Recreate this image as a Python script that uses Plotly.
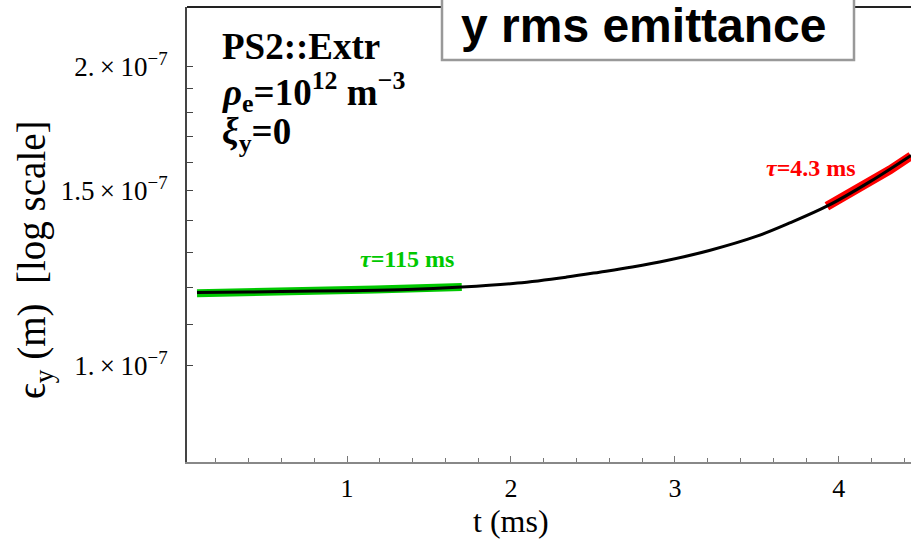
import plotly.graph_objects as go
import math

# ---- data ----
t_black = [0.085, 0.4, 0.7, 1.0, 1.37, 1.7, 2.04, 2.34, 2.54, 2.74, 2.95, 3.21, 3.5, 3.7, 3.93, 4.19, 4.44]
eps_black = [1.185e-7, 1.186e-7, 1.188e-7, 1.190e-7, 1.193e-7, 1.200e-7, 1.211e-7, 1.228e-7,
             1.242e-7, 1.257e-7, 1.276e-7, 1.306e-7, 1.350e-7, 1.392e-7, 1.448e-7, 1.532e-7, 1.628e-7]

t_green = [0.085, 0.69, 1.17, 1.70]
eps_green = [1.183e-7, 1.187e-7, 1.193e-7, 1.200e-7]

t_red = [3.927, 4.110, 4.311, 4.44]
eps_red = [1.447e-7, 1.503e-7, 1.574e-7, 1.626e-7]

ytick_vals = [1.0e-7, 1.5e-7, 2.0e-7]
ytick_text = ["1.\u2009×\u200910<sup>−7</sup>", "1.5\u2009×\u200910<sup>−7</sup>", "2.\u2009×\u200910<sup>−7</sup>"]
yminor_vals = [1.1e-7, 1.2e-7, 1.3e-7, 1.4e-7, 1.6e-7, 1.7e-7, 1.8e-7, 1.9e-7]
xtick_vals = [1, 2, 3, 4]

W, H = 911, 540
L, R, T, B = 187, 0, 7, 78
pw, ph = W - L - R, H - T - B

def px(x):
    return (x - L) / pw

def py(y):
    return (H - B - y) / ph

fig = go.Figure()
fig.add_trace(go.Scatter(x=t_green, y=eps_green, mode="lines",
                         line=dict(color="rgb(0,200,0)", width=8), hoverinfo="skip"))
fig.add_trace(go.Scatter(x=t_red, y=eps_red, mode="lines",
                         line=dict(color="rgb(255,0,0)", width=9), hoverinfo="skip"))
fig.add_trace(go.Scatter(x=t_black, y=eps_black, mode="lines", line_shape="spline",
                         line=dict(color="black", width=3), hoverinfo="skip"))

serif = "Liberation Serif, Times New Roman, serif"

fig.update_layout(
    width=W, height=H,
    margin=dict(l=L, r=R, t=T, b=B),
    paper_bgcolor="white", plot_bgcolor="white",
    showlegend=False,
    xaxis=dict(range=[0.024, 4.44], tickmode="array", tickvals=xtick_vals,
               ticks="inside", ticklen=6, tickcolor="#777", showgrid=False, zeroline=False,
               showline=True, linecolor="#888", linewidth=2,
               tickfont=dict(family=serif, size=26, color="black"),
               ticklabelstandoff=2,
               minor=dict(tickmode="linear", tick0=0, dtick=0.2, ticks="inside",
                          ticklen=4, tickcolor="#777")),
    yaxis=dict(type="log", range=[math.log10(8.0e-8), math.log10(2.296e-7)],
               tickmode="array", tickvals=ytick_vals, ticktext=ytick_text,
               ticks="inside", ticklen=6, tickcolor="#444", showgrid=False, zeroline=False,
               showline=True, linecolor="#444", linewidth=2,
               tickfont=dict(family=serif, size=27, color="black"),
               ticklabelstandoff=12,
               minor=dict(tickmode="array", tickvals=yminor_vals, ticks="inside",
                          ticklen=6, tickcolor="#444")),
)

# top frame line, then title box over it
fig.add_shape(type="line", xref="paper", yref="paper", x0=0, x1=1, y0=1, y1=1,
              line=dict(color="#222", width=2), layer="above")
fig.add_shape(type="rect", xref="paper", yref="paper",
              x0=px(442), x1=px(854), y0=py(60), y1=py(-20),
              line=dict(color="#999", width=2.5), fillcolor="white", layer="above")

ann = []
ann.append(dict(text="<b>y rms emittance</b>", x=px(644), y=py(26), xref="paper", yref="paper",
                showarrow=False, xanchor="center", yanchor="middle",
                font=dict(family="Liberation Sans, Arial, sans-serif", size=48, color="black")))
ann.append(dict(text="<b>PS2::Extr</b>", x=px(220), y=py(46), xref="paper", yref="paper",
                showarrow=False, xanchor="left", yanchor="middle",
                font=dict(family=serif, size=37, color="black")))
ann.append(dict(text="<b><i>ρ</i><sub>e</sub>=10<sup>12</sup> m<sup>−3</sup></b>", x=px(220), y=py(92),
                xref="paper", yref="paper", showarrow=False, xanchor="left", yanchor="middle",
                font=dict(family=serif, size=37, color="black")))
ann.append(dict(text="<b><i>ξ</i><sub>y</sub>=0</b>", x=px(220), y=py(134),
                xref="paper", yref="paper", showarrow=False, xanchor="left", yanchor="middle",
                font=dict(family=serif, size=37, color="black")))
ann.append(dict(text="<b><i>τ</i>=115 ms</b>", x=px(407), y=py(259), xref="paper", yref="paper",
                showarrow=False, xanchor="center", yanchor="middle",
                font=dict(family=serif, size=24, color="rgb(0,200,0)")))
ann.append(dict(text="<b><i>τ</i>=4.3 ms</b>", x=px(811), y=py(168), xref="paper", yref="paper",
                showarrow=False, xanchor="center", yanchor="middle",
                font=dict(family=serif, size=24, color="rgb(255,0,0)")))
ann.append(dict(text="t (ms)", x=px(511), y=py(521), xref="paper", yref="paper",
                showarrow=False, xanchor="center", yanchor="middle",
                font=dict(family=serif, size=32, color="black")))
ann.append(dict(text="ϵ<sub>y</sub> (m)\u00a0\u00a0[log scale]", x=px(34), y=py(260), xref="paper", yref="paper",
                showarrow=False, xanchor="center", yanchor="middle", textangle=-90,
                font=dict(family=serif, size=39, color="black")))
fig.update_layout(annotations=ann)

fig.write_html("out.html")
